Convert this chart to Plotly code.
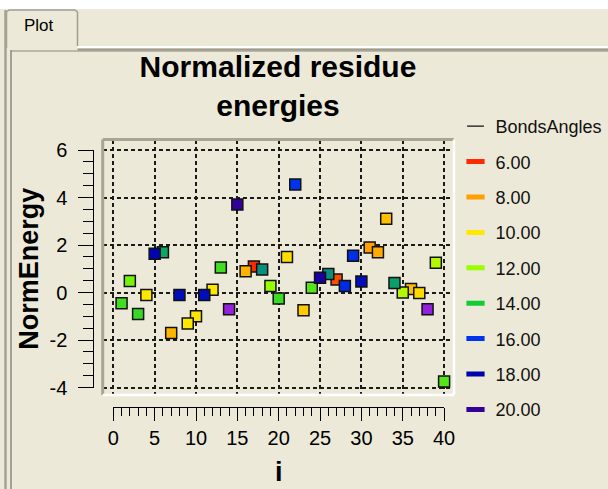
import plotly.graph_objects as go

W, H = 608, 489

# ---- data -------------------------------------------------------------
residue_index = list(range(1, 41))
norm_energy = [
    -0.45, 0.48, -0.90, -0.10, 1.63, 1.70, -1.70, -0.10, -1.30, -1.00,
    -0.10, 0.12, 1.05, -0.70, 3.70, 0.90, 1.10, 0.97, 0.27, -0.25,
    1.50, 4.55, -0.75, 0.20, 0.62, 0.78, 0.55, 0.27, 1.55, 0.46,
    1.90, 1.70, 3.10, 0.40, 0.00, 0.15, -0.02, -0.70, 1.25, -3.75,
]
bonds_angles = [
    13.3, 12.5, 13.5, 10.0, 17.8, 14.5, 8.6, 17.5, 10.0, 9.9,
    17.5, 10.0, 13.3, 22.0, 20.0, 8.5, 6.0, 14.8, 12.0, 13.4,
    9.7, 16.0, 9.2, 13.0, 19.0, 14.8, 6.6, 16.3, 16.2, 17.5,
    8.0, 8.3, 8.8, 14.6, 11.5, 8.8, 9.6, 22.0, 11.5, 13.0,
]
legend_levels = [6, 8, 10, 12, 14, 16, 18, 20]
legend_labels = ["6.00", "8.00", "10.00", "12.00", "14.00", "16.00", "18.00", "20.00"]
level_colors = ["#FF2A00", "#FFA000", "#FFE800", "#99FF00", "#11CC33",
                "#0033EE", "#0000AA", "#330099"]
overflow_level, overflow_color = 22, "#9422DC"
x_tick_values = [0, 5, 10, 15, 20, 25, 30, 35, 40]
x_tick_labels = ["0", "5", "10", "15", "20", "25", "30", "35", "40"]
y_tick_values = [-4, -2, 0, 2, 4, 6]
y_tick_labels = ["-4", "-2", "0", "2", "4", "6"]

# ---- helpers ----------------------------------------------------------
def fx(p):
    return p / W


def fy(p):
    return 1 - p / H


BG = "#ECE9D8"
FONT = "Liberation Sans, Arial, sans-serif"

stops_v = legend_levels + [overflow_level]
stops_c = level_colors + [overflow_color]
cmin, cmax = stops_v[0], stops_v[-1]
colorscale = [[(v - cmin) / (cmax - cmin), c] for v, c in zip(stops_v, stops_c)]

# lower levels are painted first
order = sorted(range(len(residue_index)), key=lambda k: bonds_angles[k])

fig = go.Figure()
fig.add_trace(go.Scatter(
    x=[residue_index[k] for k in order],
    y=[norm_energy[k] for k in order],
    mode="markers",
    marker=dict(symbol="square", size=11,
                color=[bonds_angles[k] for k in order],
                colorscale=colorscale, cmin=cmin, cmax=cmax,
                line=dict(color="#111111", width=1.5)),
    showlegend=False,
    hovertemplate="i=%{x}<br>NormEnergy=%{y}<extra></extra>",
))

# legend entries
fig.add_trace(go.Scatter(
    x=[None], y=[None], mode="markers", name="BondsAngles",
    legendgroup="g0",
    marker=dict(symbol="line-ew", size=12, color="#111111",
                line=dict(color="#111111", width=1.2)),
))
for k, (lab, col) in enumerate(zip(legend_labels, level_colors)):
    fig.add_trace(go.Scatter(
        x=[None], y=[None], mode="markers", name=lab,
        legendgroup=f"g{k + 1}",
        marker=dict(symbol="line-ew", size=13, color=col,
                    line=dict(color=col, width=5)),
    ))

# carrier for the offset scale axes
fig.add_trace(go.Scatter(x=[None], y=[None], xaxis="x2", yaxis="y2",
                         showlegend=False, hoverinfo="skip"))

grid = dict(showgrid=True, gridcolor="#1A1A1A", gridwidth=1.7,
            griddash="4px,3px", showticklabels=False, ticks="",
            zeroline=False, showline=False, fixedrange=True, automargin=False)

# frame geometry (pixels)
fl, fr, ft, fb = 102.7, 454.0, 139.5, 395.0
x0px, xpu = 113.3, 8.27     # pixel of i=0, pixels per unit
y0px, ypu = 292.5, 23.75    # pixel of 0, pixels per unit

fig.update_layout(
    template="none",
    width=W, height=H, autosize=False,
    margin=dict(l=0, r=0, t=0, b=0, pad=0),
    paper_bgcolor=BG, plot_bgcolor="rgba(0,0,0,0)",
    font=dict(family=FONT, color="black"),
    showlegend=True,
    xaxis=dict(domain=[fx(fl), fx(fr)],
               range=[(fl - x0px) / xpu, (fr - x0px) / xpu],
               tickmode="array", tickvals=x_tick_values, anchor="y", **grid),
    yaxis=dict(domain=[fy(fb), fy(ft)],
               range=[(y0px - fb) / ypu, (y0px - ft) / ypu],
               tickmode="array", tickvals=y_tick_values, anchor="x", **grid),
    xaxis2=dict(domain=[fx(x0px), fx(x0px + 40 * xpu)], range=[0, 40],
                anchor="free", position=fy(407), side="bottom",
                showline=True, linecolor="black", linewidth=1,
                ticks="outside", ticklen=13, tickwidth=1, tickcolor="black",
                tickmode="array", tickvals=x_tick_values, ticktext=x_tick_labels,
                minor=dict(ticks="outside", dtick=1, tick0=0, ticklen=8,
                           tickwidth=1, tickcolor="black"),
                tickfont=dict(size=20, family=FONT, color="black"),
                ticklabelstandoff=0, automargin=False,
                showgrid=False, zeroline=False, fixedrange=True,
                title=dict(text="<b>i</b>",
                           font=dict(size=27, family=FONT, color="black"),
                           standoff=14)),
    yaxis2=dict(domain=[fy(y0px + 4 * ypu), fy(y0px - 6 * ypu)], range=[-4, 6],
                anchor="free", position=fx(93.3), side="left",
                showline=True, linecolor="black", linewidth=1,
                ticks="outside", ticklen=15, tickwidth=1, tickcolor="black",
                tickmode="array", tickvals=y_tick_values, ticktext=y_tick_labels,
                minor=dict(ticks="outside", dtick=0.5, tick0=0, ticklen=10,
                           tickwidth=1, tickcolor="black"),
                tickfont=dict(size=20, family=FONT, color="black"),
                ticklabelstandoff=7, automargin=False,
                showgrid=False, zeroline=False, fixedrange=True,
                title=dict(text="<b>NormEnergy</b>",
                           font=dict(size=27, family=FONT, color="black"),
                           standoff=2)),
    title=dict(text="<b>Normalized residue<br>energies</b>",
               font=dict(size=30, family=FONT, color="black"),
               x=fx(278), xanchor="center", xref="paper",
               y=fy(77), yanchor="top", yref="container"),
    legend=dict(x=fx(455.5), y=fy(108), xanchor="left", yanchor="top",
                bgcolor="rgba(0,0,0,0)", borderwidth=0,
                font=dict(size=18, family=FONT, color="#111111"),
                traceorder="grouped", tracegroupgap=9,
                itemclick=False, itemdoubleclick=False),
)

# window chrome: top strip, tab, panel borders, sunken plot frame
shapes = [
    dict(type="rect", xref="paper", yref="paper", x0=0, x1=1, y0=fy(9), y1=1,
         fillcolor="#FFFFFF", line=dict(width=0), layer="below"),
    dict(type="path", xref="paper", yref="paper",
         path=(f"M {fx(6.5)},{fy(48)} L {fx(6.5)},{fy(12)} L {fx(9)},{fy(10)} "
               f"L {fx(75)},{fy(10)} L {fx(77.5)},{fy(12)} L {fx(77.5)},{fy(46)}"),
         line=dict(color="#A09E90", width=1.5), layer="below"),
    dict(type="line", xref="paper", yref="paper", x0=fx(77.5), x1=1,
         y0=fy(47), y1=fy(47), line=dict(color="#FFFFFF", width=2)),
    dict(type="line", xref="paper", yref="paper", x0=fx(77.5), x1=1,
         y0=fy(49.5), y1=fy(49.5), line=dict(color="#9D9B8E", width=2)),
    dict(type="line", xref="paper", yref="paper", x0=fx(5.5), x1=fx(5.5),
         y0=fy(10), y1=0, line=dict(color="#A4A296", width=2.5)),
    dict(type="line", xref="paper", yref="paper", x0=fx(11), x1=fx(11),
         y0=fy(50), y1=0, line=dict(color="#8A887C", width=1.5)),
    dict(type="line", xref="paper", yref="paper", x0=fx(11), x1=1,
         y0=fy(51), y1=fy(51), line=dict(color="#8A887C", width=1.2)),
    # sunken frame around the plotting area
    dict(type="line", xref="paper", yref="paper", x0=fx(fl), x1=fx(fr),
         y0=fy(ft), y1=fy(ft), line=dict(color="#A8A593", width=3)),
    dict(type="line", xref="paper", yref="paper", x0=fx(fl), x1=fx(fl),
         y0=fy(ft), y1=fy(fb), line=dict(color="#A8A593", width=3)),
    dict(type="line", xref="paper", yref="paper", x0=fx(fr), x1=fx(fr),
         y0=fy(ft), y1=fy(fb), line=dict(color="#FFFFFF", width=2.5)),
    dict(type="line", xref="paper", yref="paper", x0=fx(fl), x1=fx(fr),
         y0=fy(fb), y1=fy(fb), line=dict(color="#FFFFFF", width=2.5)),
]
fig.update_layout(shapes=shapes)

fig.add_annotation(text="Plot", xref="paper", yref="paper",
                   x=fx(22), y=fy(26), xanchor="left", yanchor="middle",
                   showarrow=False, font=dict(size=17, family=FONT, color="black"))

fig.write_html("out.html")
